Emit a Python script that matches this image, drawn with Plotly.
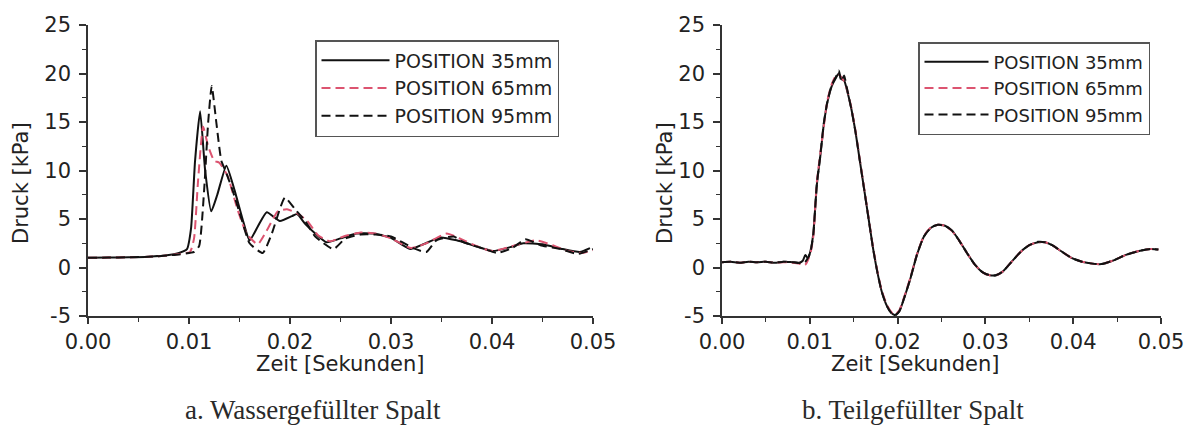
import plotly.graph_objects as go

W, H = 1187, 425

# ---------------- data: a. Wassergefüllter Spalt ----------------
a_t35 = [0, 0.002, 0.004, 0.006, 0.008, 0.009, 0.0098, 0.0102, 0.0106, 0.0111, 0.0116,
         0.0122, 0.0128, 0.0137, 0.0145, 0.0153, 0.016, 0.0168, 0.0177, 0.019, 0.0202,
         0.0207, 0.0215, 0.0225, 0.0236, 0.025, 0.0266, 0.0282, 0.0299, 0.0319, 0.0332,
         0.0349, 0.0365, 0.0381, 0.0401, 0.0418, 0.0431, 0.045, 0.047, 0.0487, 0.0497]
a_p35 = [1.0, 1.02, 1.05, 1.12, 1.3, 1.5, 1.9, 4.0, 11.0, 16.1, 10.0,
         5.8, 7.5, 10.5, 8.0, 5.0, 2.8, 4.2, 5.7, 4.8, 5.3,
         5.5, 4.5, 3.5, 2.6, 3.0, 3.5, 3.5, 3.1, 1.9, 2.4,
         3.1, 2.8, 2.3, 1.7, 2.1, 2.5, 2.4, 1.9, 1.6, 2.0]

a_t65 = [0, 0.002, 0.004, 0.006, 0.008, 0.009, 0.0101, 0.0105, 0.0109, 0.0114, 0.0119,
         0.0125, 0.013, 0.0138, 0.0148, 0.0157, 0.0168, 0.0178, 0.0188, 0.0197, 0.0207,
         0.0217, 0.0228, 0.024, 0.0253, 0.027, 0.0285, 0.03, 0.032, 0.0335, 0.0355,
         0.037, 0.0385, 0.04, 0.042, 0.0444, 0.046, 0.0475, 0.049, 0.05]
a_p65 = [1.0, 1.02, 1.05, 1.1, 1.25, 1.4, 1.6, 3.0, 9.0, 14.5, 12.5,
         11.0, 10.8, 9.5, 6.0, 3.5, 2.4, 4.0, 5.8, 6.0, 5.6,
         4.8, 3.3, 2.7, 3.2, 3.6, 3.5, 3.0, 2.0, 2.5, 3.5,
         2.9, 2.2, 1.7, 2.2, 2.8, 2.3, 1.7, 1.5, 1.8]

a_t95 = [0, 0.002, 0.004, 0.006, 0.008, 0.009, 0.0105, 0.011, 0.0115, 0.0119, 0.01225,
         0.0127, 0.0132, 0.0136, 0.0143, 0.0152, 0.016, 0.0173, 0.0182, 0.0195, 0.0205,
         0.0215, 0.0225, 0.0243, 0.0255, 0.027, 0.0285, 0.03, 0.0322, 0.0335, 0.0345,
         0.0362, 0.0372, 0.039, 0.0405, 0.042, 0.0433, 0.0448, 0.0468, 0.0485, 0.05]
a_p95 = [1.0, 1.02, 1.05, 1.1, 1.25, 1.35, 1.6, 2.2, 8.0, 15.0, 18.7,
         15.0, 11.0, 10.0, 8.0, 5.0, 2.5, 1.5, 3.5, 7.2, 6.0,
         4.8, 3.2, 1.9, 3.0, 3.4, 3.4, 3.2, 2.0, 1.6, 2.8,
         3.2, 2.6, 2.0, 1.5, 2.0, 2.9, 2.3, 1.9, 1.4, 1.9]

# ---------------- data: b. Teilgefüllter Spalt ----------------
b_t = [0, 0.001, 0.002, 0.003, 0.004, 0.005, 0.006, 0.007, 0.008,
       0.0088, 0.0092, 0.0095, 0.0098,
       0.0101, 0.0104, 0.0108, 0.0112, 0.0116,
       0.012, 0.0125, 0.013, 0.0133, 0.0136, 0.0139, 0.0142,
       0.0147, 0.0152, 0.0157, 0.0162, 0.0167, 0.0172, 0.0177, 0.0182, 0.0188, 0.0193, 0.0197,
       0.0202, 0.0208, 0.0215, 0.0222, 0.023, 0.0238, 0.0246, 0.0254, 0.0262, 0.027,
       0.0279, 0.0288, 0.0297, 0.0305, 0.0312, 0.032, 0.033, 0.034, 0.035, 0.036,
       0.0368, 0.0376, 0.0386, 0.0398, 0.041, 0.0422, 0.0432, 0.0445, 0.046, 0.0475, 0.0488, 0.0497]
b_p35 = [0.55, 0.6, 0.5, 0.6, 0.55, 0.6, 0.5, 0.6, 0.55,
         0.5, 0.7, 1.3, 0.9,
         1.8, 3.5, 8.5, 11.5, 14.8,
         17.0, 18.7, 19.6, 20.0, 19.4, 19.3, 18.4,
         16.5, 14.0, 11.0, 8.0, 5.0, 2.0, -0.5, -2.5, -4.0, -4.7, -4.9,
         -4.5, -3.0, -1.0, 1.3, 3.2, 4.1, 4.4, 4.3, 3.8, 2.8,
         1.5, 0.3, -0.5, -0.8, -0.8, -0.4, 0.6, 1.6, 2.3, 2.6,
         2.6, 2.3, 1.7, 1.0, 0.6, 0.4, 0.35, 0.7, 1.3, 1.7, 1.9, 1.85]
b_p65 = [0.55, 0.6, 0.5, 0.6, 0.55, 0.6, 0.5, 0.55, 0.5,
         0.4, 0.2, 0.3, 0.8,
         1.6, 3.2, 8.8, 11.8, 14.6,
         17.2, 18.9, 19.8, 19.9, 19.6, 19.2, 18.5,
         16.6, 14.1, 11.1, 8.1, 5.1, 2.1, -0.4, -2.4, -3.9, -4.6, -4.85,
         -4.4, -2.9, -0.9, 1.35, 3.25, 4.15, 4.4, 4.3, 3.75, 2.8,
         1.5, 0.3, -0.5, -0.8, -0.8, -0.4, 0.6, 1.6, 2.3, 2.6,
         2.6, 2.3, 1.7, 1.0, 0.6, 0.4, 0.35, 0.7, 1.3, 1.7, 1.9, 1.85]
b_p95 = [0.55, 0.6, 0.5, 0.6, 0.55, 0.6, 0.5, 0.6, 0.55,
         0.45, 0.4, 0.6, 1.0,
         1.7, 3.4, 8.6, 11.6, 14.9,
         17.1, 18.8, 19.7, 20.3, 19.2, 19.8, 18.6,
         16.5, 14.0, 11.0, 8.0, 5.0, 2.0, -0.5, -2.5, -4.0, -4.7, -4.95,
         -4.5, -3.0, -1.0, 1.3, 3.2, 4.1, 4.4, 4.3, 3.8, 2.8,
         1.5, 0.3, -0.5, -0.8, -0.8, -0.4, 0.6, 1.6, 2.3, 2.65,
         2.6, 2.3, 1.7, 1.0, 0.6, 0.4, 0.35, 0.7, 1.3, 1.7, 1.9, 1.85]

names = ["POSITION 35mm", "POSITION 65mm", "POSITION 95mm"]
x_tickvals = [0, 0.01, 0.02, 0.03, 0.04, 0.05]
x_ticktext = ["0.00", "0.01", "0.02", "0.03", "0.04", "0.05"]
y_tickvals = [-5, 0, 5, 10, 15, 20, 25]
y_ticktext = ["-5", "0", "5", "10", "15", "20", "25"]
x_title = "Zeit [Sekunden]"
y_title = "Druck [kPa]"
captions = ["a. Wassergefüllter Spalt", "b. Teilgefüllter Spalt"]

PINK = "#dc5470"
styles = [dict(color="#111111", width=2, dash="solid"),
          dict(color=PINK, width=2, dash="9px,5px"),
          dict(color="#111111", width=2, dash="9px,5px")]

def px(x):
    return x / W

def py(y):
    return 1 - y / H

fig = go.Figure()
panel_a = [(a_t35, a_p35), (a_t65, a_p65), (a_t95, a_p95)]
panel_b = [(b_t, b_p35), (b_t, b_p65), (b_t, b_p95)]
for i, (t, p) in enumerate(panel_a):
    fig.add_trace(go.Scatter(x=t, y=p, mode="lines", name=names[i], line=styles[i],
                             line_shape="spline", line_smoothing=0.5,
                             xaxis="x", yaxis="y", legend="legend"))
for i, (t, p) in enumerate(panel_b):
    fig.add_trace(go.Scatter(x=t, y=p, mode="lines", name=names[i], line=styles[i],
                             line_shape="spline", line_smoothing=0.6,
                             xaxis="x2", yaxis="y2", legend="legend2"))

tickfont = dict(family="DejaVu Sans", size=21, color="#222222")
ydom = [py(316), py(25)]

def xax(dom, anchor):
    return dict(domain=dom, anchor=anchor, range=[0, 0.05], tickvals=x_tickvals, ticktext=x_ticktext,
                showline=True, linecolor="#333333", linewidth=1.5, ticks="outside", ticklen=6,
                tickwidth=1.5, tickcolor="#333333", showgrid=False, zeroline=False, tickfont=tickfont,
                automargin=False,
                minor=dict(dtick=0.005, tick0=0, ticks="outside", ticklen=4, tickwidth=1.2,
                           tickcolor="#333333", showgrid=False))

def yax(anchor):
    return dict(domain=ydom, anchor=anchor, range=[-5, 25], tickvals=y_tickvals, ticktext=y_ticktext,
                showline=True, linecolor="#333333", linewidth=1.5, ticks="outside", ticklen=7,
                tickwidth=1.5, tickcolor="#333333", showgrid=False, zeroline=False, tickfont=tickfont,
                ticklabelstandoff=4, automargin=False,
                minor=dict(dtick=2.5, tick0=0, ticks="outside", ticklen=4, tickwidth=1.2,
                           tickcolor="#333333", showgrid=False))

legfont = dict(family="DejaVu Sans", size=19, color="#222222")
fig.update_layout(
    width=W, height=H, margin=dict(l=0, r=0, t=0, b=0, autoexpand=False),
    paper_bgcolor="white", plot_bgcolor="white",
    xaxis=xax([px(88), px(593)], "y"),
    yaxis=yax("x"),
    xaxis2=xax([px(722), px(1161)], "y2"),
    yaxis2=yax("x2"),
    legend=dict(x=px(315), y=py(40), xanchor="left", yanchor="top", bgcolor="white",
                bordercolor="#555555", borderwidth=1.5, font=legfont, itemwidth=68,
                tracegroupgap=0),
    legend2=dict(x=px(918), y=py(42), xanchor="left", yanchor="top", bgcolor="white",
                 bordercolor="#555555", borderwidth=1.5, font=dict(legfont, size=18), itemwidth=64,
                 tracegroupgap=0),
)

ann = []
titlefont = dict(family="DejaVu Sans", size=21, color="#222222")
ann.append(dict(text=x_title, x=px(340), y=py(364), xref="paper", yref="paper", showarrow=False,
                xanchor="center", yanchor="middle", font=titlefont))
ann.append(dict(text=x_title, x=px(915), y=py(364), xref="paper", yref="paper", showarrow=False,
                xanchor="center", yanchor="middle", font=titlefont))
ann.append(dict(text=y_title, x=px(21), y=py(183), xref="paper", yref="paper", showarrow=False,
                xanchor="center", yanchor="middle", textangle=-90, font=titlefont))
ann.append(dict(text=y_title, x=px(665), y=py(183), xref="paper", yref="paper", showarrow=False,
                xanchor="center", yanchor="middle", textangle=-90, font=titlefont))
capfont = dict(family="Liberation Serif", size=27, color="#2a2a2a")
ann.append(dict(text=captions[0], x=px(313), y=py(410), xref="paper", yref="paper", showarrow=False,
                xanchor="center", yanchor="middle", font=capfont))
ann.append(dict(text=captions[1], x=px(913), y=py(410), xref="paper", yref="paper", showarrow=False,
                xanchor="center", yanchor="middle", font=capfont))
fig.update_layout(annotations=ann)

fig.write_html("out.html")
